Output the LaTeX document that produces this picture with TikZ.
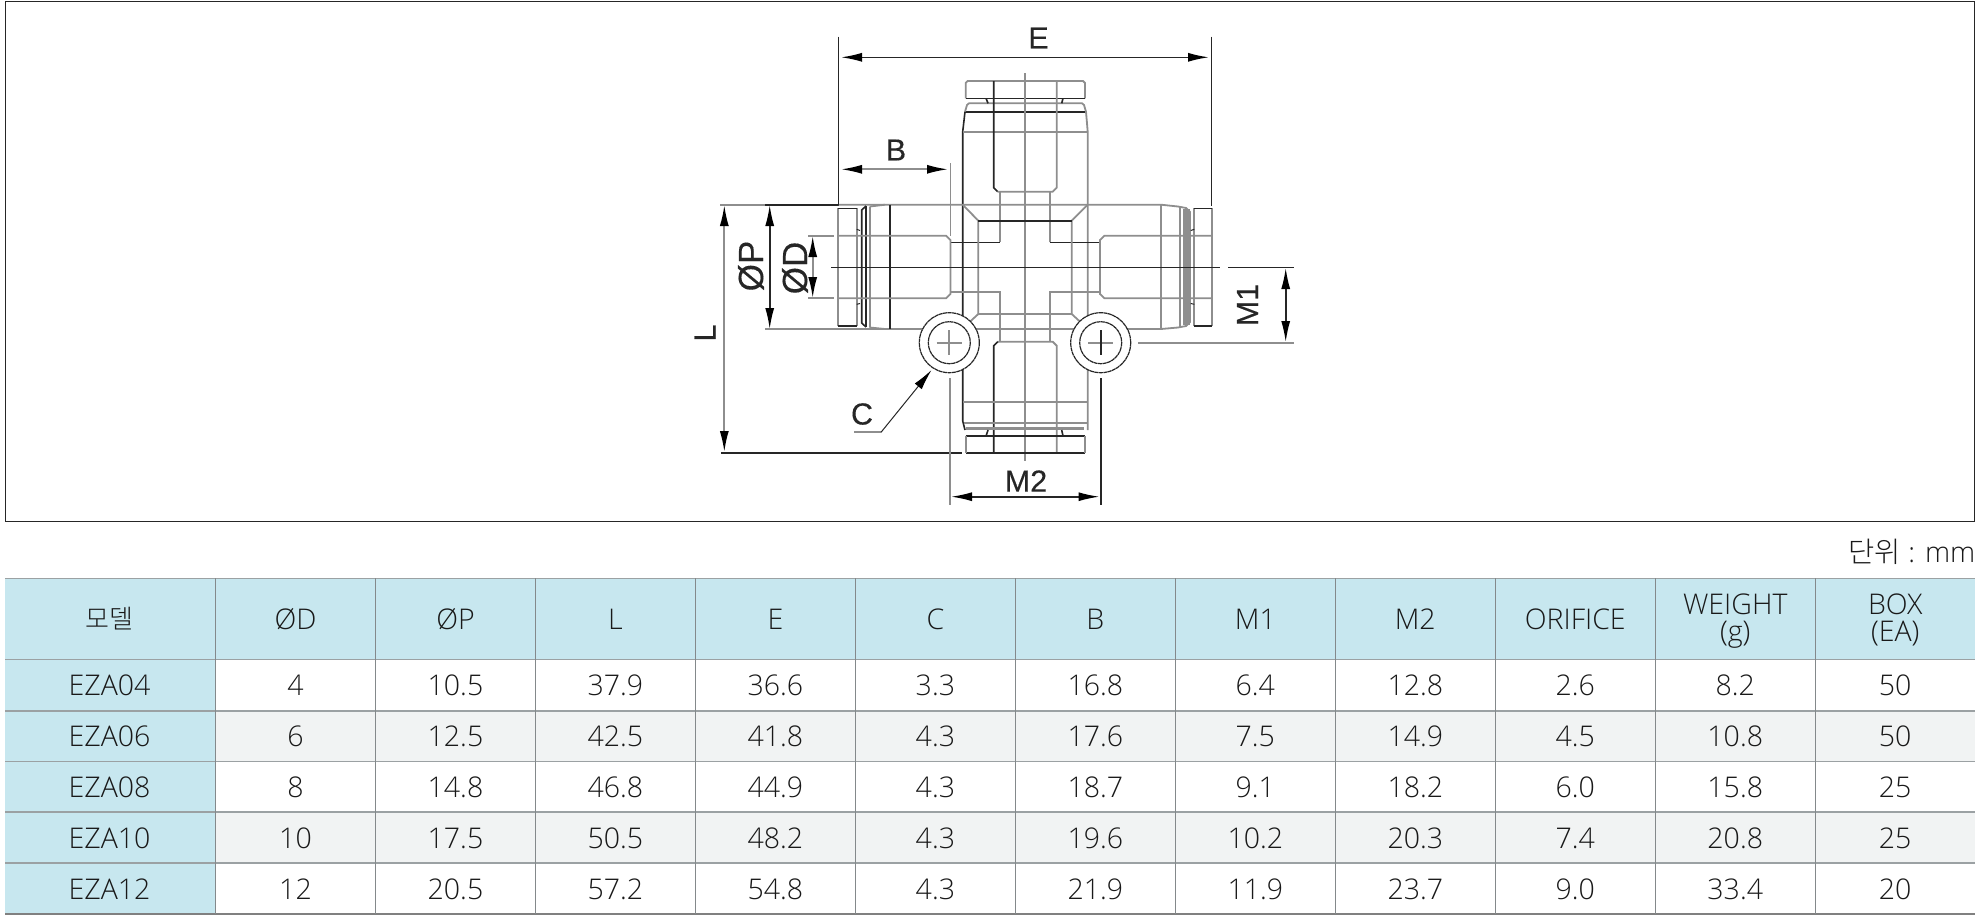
\documentclass[tikz,border=0pt]{standalone}
\usepackage{fontspec}
\setmainfont{Open Sans}[UprightFont=* Light]
\newfontfamily\krfont{Noto Sans CJK KR Light}
\newfontfamily\dimfont{Liberation Sans}[FakeBold=0.25]
\usetikzlibrary{arrows.meta}
\definecolor{headblue}{HTML}{C7E7EF}
\definecolor{rowgrey}{HTML}{F1F3F3}
\definecolor{rulegrey}{HTML}{9BA1A3}
\definecolor{inkdark}{HTML}{262626}
\definecolor{inkgrey}{HTML}{8E8E8E}
\tikzset{
	darkline/.style={draw=inkdark,line width=1.6pt},
	greyline/.style={draw=inkgrey,line width=1.8pt},
	dimboth/.style={{Latex[length=21pt,width=9pt,color=black]}-{Latex[length=21pt,width=9pt,color=black]}},
	dimlabel/.style={font=\dimfont\fontsize{30.5}{33}\selectfont,text=inkdark,inner sep=0pt},
	dialabel/.style={font=\dimfont\fontsize{35}{38}\selectfont,text=inkdark,inner sep=0pt,rotate=90},
	celltext/.style={font=\fontsize{28.5}{31}\selectfont,text=black!90,anchor=base,inner sep=0pt},
	boltring/.style={fill=white,draw=inkdark,line width=1.2pt,dash pattern=on 4pt off 0.5pt},
}
\begin{document}
\begin{tikzpicture}[x=1pt,y=-1pt]
	\useasboundingbox (0,0) rectangle (1980,919);
	\draw [draw=inkdark,line width=1.1pt] (5.3,1.5) rectangle (1974.5,521.5);

	\draw [greyline] (965.7,98.3) -- (965.7,83) -- (967.7,81) -- (1083,81) -- (1085,83) -- (1085,98.3);
	\draw [darkline] (965.7,98.3) -- (1085,98.3);
	\draw [darkline] (965,111.7) -- (1086,111.7);
	\draw [greyline] (965,111.7) -- (967,105) -- (969,103.3) -- (1082,103.3) -- (1084,105) -- (1086,111.7) -- (1087.7,131.7) -- (1087.7,430);
	\draw [darkline] (986,98.3) -- (988,103.3) (1063,98.3) -- (1061.7,103.3);
	\draw [darkline] (965,111.7) -- (962.7,131.7) -- (962.7,421) -- (965,430);
	\draw [greyline] (962.7,131.7) -- (1087.7,131.7);
	\draw [greyline] (1025,73) -- (1025,461);
	\draw [darkline] (993.7,81) -- (993.7,187.7) -- (997.7,191.7);
	\draw [greyline] (997.7,191.7) -- (1052.7,191.7) -- (1056.7,187.7) -- (1056.7,81);
	\draw [greyline] (1000,191.7) -- (1000,242.3) (1049.7,191.7) -- (1049.7,242.3);
	\draw [darkline] (950.4,242.3) -- (1000,242.3) (1049.7,242.3) -- (1101,242.3);
	\draw [greyline] (950.4,292) -- (1000,292) -- (1000,341.7) (1101,292) -- (1049.7,292) -- (1049.7,341.7);
	\draw [greyline] (997.7,341.7) -- (1052.7,341.7) -- (1056.7,345.7) -- (1056.7,452.7);
	\draw [darkline] (997.7,341.7) -- (993.7,345.7) -- (993.7,452.7);
	\draw [greyline] (962.7,402.3) -- (1087.7,402.3) (963.5,423.3) -- (1086.5,423.3);
	\draw [greyline,line width=3pt] (966,428) -- (1084,428);
	\draw [darkline] (965.7,436) -- (1085,436) (965.7,452.7) -- (1085,452.7);
	\draw [greyline] (965.7,436) -- (965.7,452.7) (1085,436) -- (1085,452.7);
	\draw [darkline] (988,430) -- (986,436) (1061.7,430) -- (1063,436);

	\draw [greyline] (963,205) -- (978.3,220.7) -- (978.3,314) -- (1071.7,314) -- (1071.7,220.7) -- (1087.3,205);
	\draw [darkline] (978.3,220.7) -- (1071.7,220.7);
	\draw [greyline] (978.3,314) -- (970.7,321) (1071.7,314) -- (1079.3,321);

	\draw [greyline] (720,204.7) -- (765,204.7);
	\draw [darkline] (765,204.7) -- (838.5,204.7);
	\draw [greyline] (838.5,204.7) -- (1161,204.7) -- (1178,206.5) -- (1186,208) -- (1190,212) -- (1190,322) -- (1186,326) -- (1178,327.5) -- (1161,329) -- (765,329);
	\draw [greyline] (1161,204.7) -- (1161,329) (1180,206.5) -- (1180,327.5);
	\filldraw [fill=inkgrey,draw=none] (1183.3,209) rectangle (1190,325);
	\draw [greyline] (838.3,326) -- (838.3,208.3) (856.7,208.3) -- (856.7,326);
	\draw [darkline] (838.3,208.3) -- (856.7,208.3) (838.3,326) -- (856.7,326);
	\draw [greyline] (1194.3,326) -- (1194.3,208.3) (1211.7,208.3) -- (1211.7,326);
	\draw [darkline] (1194.3,208.3) -- (1211.7,208.3) (1194.3,326) -- (1211.7,326);
	\draw [darkline,line width=1pt] (856.7,229.3) -- (860,230.5) (856.7,304.3) -- (860,303.5) (1190.7,230.5) -- (1194.3,229.3) (1190.7,303.5) -- (1194.3,304.3);
	\draw [darkline] (866,206) -- (861.7,210) -- (861.7,323) -- (866,327);
	\draw [darkline] (865.7,206) -- (865.7,327);
	\draw [greyline] (870,206.5) -- (870,327.5) (870,206.5) -- (885,204.7) (870,327.5) -- (885,329);
	\draw [darkline] (890,204.7) -- (890,329);
	\draw [greyline] (838.5,235.7) -- (946,235.7) -- (950.4,240) -- (950.4,294) -- (946,298.3) -- (838.5,298.3);
	\draw [greyline] (1211.7,235.7) -- (1104.5,235.7) -- (1100,240) -- (1100,294) -- (1104.5,298.3) -- (1211.7,298.3);
	\draw [darkline] (831,267.3) -- (1220,267.3);

	\filldraw [boltring] (949.3,342.7) circle (30);
	\draw [boltring] (949.3,342.7) circle (21);
	\draw [greyline] (936.6,342.7) -- (962,342.7) (949.3,330) -- (949.3,355.4);
	\filldraw [boltring] (1100.7,342.7) circle (30);
	\draw [boltring] (1100.7,342.7) circle (21);
	\draw [greyline] (1088,342.7) -- (1113.4,342.7);
	\draw [darkline] (1100.7,330) -- (1100.7,355.4);

	\coordinate (eLeft) at (841,57.3);
	\coordinate (eRight) at (1209,57.3);
	\coordinate (bLeft) at (841,169.3);
	\coordinate (bRight) at (948,169.3);
	\coordinate (lTop) at (724.3,205);
	\coordinate (lBot) at (724.3,452);
	\coordinate (pTop) at (769.7,205);
	\coordinate (pBot) at (769.7,329);
	\coordinate (dTop) at (812.7,236);
	\coordinate (dBot) at (812.7,298);
	\coordinate (mOneTop) at (1285.7,268);
	\coordinate (mOneBot) at (1285.7,342);
	\coordinate (mTwoLeft) at (951,496.7);
	\coordinate (mTwoRight) at (1099.5,496.7);
	\coordinate (cKnee) at (881,432.3);
	\coordinate (cFoot) at (854.4,432.3);
	\coordinate (cTip) at (931.5,370);

	\draw [darkline] (838.5,36.7) -- (838.5,204.7) (1211.3,36.7) -- (1211.3,206);
	\draw [greyline] (950.4,163) -- (950.4,236);
	\draw [darkline,dimboth] (eLeft) -- (eRight);
	\draw [greyline,dimboth] (bLeft) -- (bRight);
	\draw [greyline,dimboth] (lTop) -- (lBot);
	\draw [darkline,dimboth] (pTop) -- (pBot);
	\draw [greyline,dimboth] (dTop) -- (dBot);
	\draw [darkline,dimboth] (mOneTop) -- (mOneBot);
	\draw [darkline,dimboth] (mTwoLeft) -- (mTwoRight);
	\draw [greyline] (808.3,235.7) -- (834,235.7) (808.3,298.3) -- (834,298.3);
	\draw [darkline] (721,452.7) -- (962,452.7);
	\draw [darkline] (1228.3,267.3) -- (1294.3,267.3);
	\draw [greyline] (1138.3,342.7) -- (1294.3,342.7);
	\draw [greyline] (949.6,378) -- (949.6,505);
	\draw [darkline] (1101,378) -- (1101,505);
	\draw [greyline] (cFoot) -- (cKnee);
	\draw [draw=inkdark,line width=1pt,-{Latex[length=21pt,width=9pt,color=black]}] (cKnee) -- (cTip);

	\node [dimlabel] (labelE) at (1038.5,38) {E};
	\node [dimlabel] (labelB) at (896,150) {B};
	\node [dimlabel,rotate=90] (labelL) at (705,333) {L};
	\node [dialabel] (labelP) at (751,266) {ØP};
	\node [dialabel] (labelD) at (795,268) {ØD};
	\node [dimlabel,rotate=90] (labelMone) at (1247.5,305) {M1};
	\node [dimlabel] (labelMtwo) at (1026,481) {M2};
	\node [dimlabel] (labelC) at (862,414) {C};

	\node [celltext,anchor=base east] (unit) at (1975.5,562.5) {{\krfont 단위} : mm};

	\filldraw [fill=headblue,draw=none] (5,578) rectangle (1975,659);
	\filldraw [fill=headblue,draw=none] (5,659) rectangle (215.5,914);
	\filldraw [fill=rowgrey,draw=none] (215.5,710.5) rectangle (1975,761);
	\filldraw [fill=rowgrey,draw=none] (215.5,811.7) rectangle (1975,862.7);
	\foreach \rowy in {578.5,659.5,711,761.5,812,863}
		\draw [draw=rulegrey,line width=1.8pt] (5,\rowy) -- (1975,\rowy);
	\draw [draw=gray,line width=2.4pt] (5,914) -- (1975,914);
	\foreach \colx in {0,...,10}
		\draw [draw=rulegrey!85!black,line width=1.4pt] ({215.5+159.97*\colx},578) -- ({215.5+159.97*\colx},914);

	\node [celltext,font=\krfont\fontsize{26}{30}\selectfont] (headModel) at (109,628.5) {모델};
	\foreach \headtext [count=\c from 0] in {ØD,ØP,L,E,C,B,M1,M2,ORIFICE}
		\node [celltext] (head\c) at ({295.5+159.97*\c},629) {\headtext};
	\node [celltext] (headWeight) at ({295.5+159.97*9},614) {WEIGHT};
	\node [celltext] (headGram) at ({295.5+159.97*9},641) {(g)};
	\node [celltext] (headBox) at ({295.5+159.97*10},614) {BOX};
	\node [celltext] (headEa) at ({295.5+159.97*10},641) {(EA)};

	\foreach \rowvals [count=\r from 0] in {
		{4,10.5,37.9,36.6,3.3,16.8,6.4,12.8,2.6,8.2,50},
		{6,12.5,42.5,41.8,4.3,17.6,7.5,14.9,4.5,10.8,50},
		{8,14.8,46.8,44.9,4.3,18.7,9.1,18.2,6.0,15.8,25},
		{10,17.5,50.5,48.2,4.3,19.6,10.2,20.3,7.4,20.8,25},
		{12,20.5,57.2,54.8,4.3,21.9,11.9,23.7,9.0,33.4,20}}
		\foreach \cellval [count=\c from 0] in \rowvals
			\node [celltext] (cell\r-\c) at ({295.5+159.97*\c},{695+51*\r}) {\cellval};
	\foreach \modelname [count=\r from 0] in {EZA04,EZA06,EZA08,EZA10,EZA12}
		\node [celltext] (model\r) at (109.5,{695+51*\r}) {\modelname};
\end{tikzpicture}
\end{document}
